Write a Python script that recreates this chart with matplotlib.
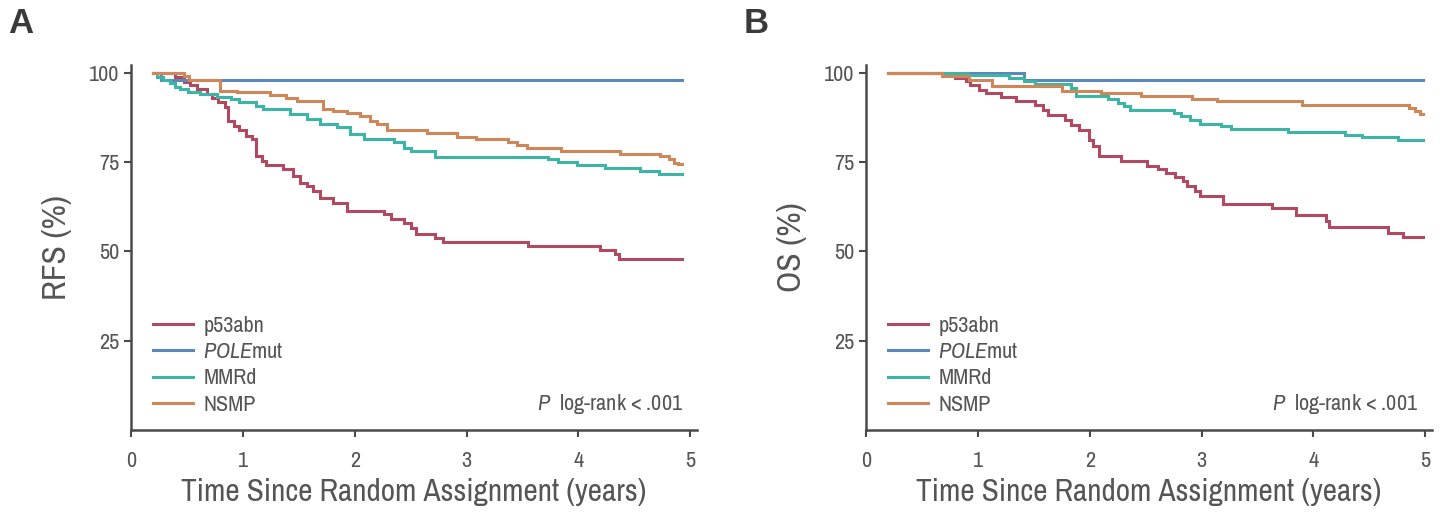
import matplotlib
matplotlib.use("Agg")
import matplotlib.pyplot as plt

FONT = ["Archivo Narrow", "DejaVu Sans"]
plt.rcParams["font.family"] = FONT
plt.rcParams["mathtext.fontset"] = "custom"
plt.rcParams["mathtext.it"] = "Archivo Narrow:italic"
plt.rcParams["mathtext.rm"] = "Archivo Narrow"

groups = ["p53abn", r"$\mathit{POLE}$mut", "MMRd", "NSMP"]
colors = ["#b14a60", "#5b88ba", "#3db5a6", "#cd8759"]

# Relapse-free survival (years, %)
rfs_p53_t = [0.20, 0.39, 0.47, 0.53, 0.59, 0.68, 0.72, 0.78, 0.84, 0.87, 0.92, 0.97, 1.03, 1.08,
             1.12, 1.17, 1.21, 1.36, 1.45, 1.51, 1.57, 1.63, 1.69, 1.81, 1.93, 2.26, 2.32, 2.44,
             2.50, 2.55, 2.72, 2.79, 3.55, 4.19, 4.33, 4.36, 4.93]
rfs_p53_s = [100, 98.9, 97.4, 96.5, 95.5, 94.1, 92.9, 91.8, 90.4, 86.6, 85.2, 83.9, 82.3, 81.5,
             76.8, 75.4, 74.2, 73.0, 71.2, 69.3, 68.4, 67.0, 65.1, 63.7, 61.4, 60.4, 59.0, 57.9,
             56.5, 54.8, 53.8, 52.7, 51.5, 50.4, 49.3, 47.8, 47.8]
rfs_pole_t = [0.20, 0.27, 4.93]
rfs_pole_s = [100, 98.0, 98.0]
rfs_mmrd_t = [0.20, 0.23, 0.29, 0.35, 0.39, 0.44, 0.51, 0.62, 0.77, 0.89, 0.97, 1.12, 1.18, 1.42,
              1.57, 1.69, 1.84, 1.96, 2.08, 2.35, 2.44, 2.50, 2.72, 3.73, 3.82, 3.99, 4.24, 4.55,
              4.72, 4.93]
rfs_mmrd_s = [100, 98.8, 98.0, 97.1, 96.0, 95.4, 94.6, 94.0, 93.2, 92.6, 91.8, 90.8, 89.9, 88.5,
              87.1, 85.7, 84.8, 82.9, 81.5, 80.6, 79.1, 78.2, 76.5, 75.9, 75.1, 74.2, 73.4, 72.6,
              71.8, 71.8]
rfs_nsmp_t = [0.20, 0.47, 0.52, 0.80, 0.95, 1.24, 1.39, 1.48, 1.72, 1.81, 1.93, 2.05, 2.14, 2.20,
              2.29, 2.65, 2.91, 3.08, 3.37, 3.45, 3.54, 3.84, 4.37, 4.73, 4.81, 4.85, 4.89, 4.93]
rfs_nsmp_s = [100, 99.0, 98.1, 95.0, 94.6, 93.8, 92.9, 92.2, 89.9, 89.4, 88.9, 88.0, 86.6, 85.6,
              83.9, 83.3, 82.1, 81.4, 80.7, 79.8, 79.1, 78.2, 77.4, 76.6, 75.9, 74.9, 74.5, 74.5]

# Overall survival (years, %)
os_p53_t = [0.20, 0.80, 0.89, 0.93, 1.01, 1.07, 1.21, 1.34, 1.51, 1.58, 1.63, 1.78, 1.83, 1.90,
            1.99, 2.03, 2.08, 2.28, 2.51, 2.61, 2.68, 2.76, 2.83, 2.87, 2.94, 2.99, 3.19, 3.63,
            3.84, 4.11, 4.14, 4.67, 4.80, 4.98]
os_p53_s = [100, 98.5, 97.6, 96.6, 95.2, 94.3, 93.2, 92.0, 91.0, 89.6, 88.2, 86.8, 85.4, 84.0,
            81.2, 79.4, 76.6, 75.2, 73.9, 73.0, 71.9, 70.8, 69.6, 68.4, 66.8, 65.5, 63.3, 62.1,
            60.2, 58.5, 56.9, 55.3, 54.0, 54.0]
os_pole_t = [0.20, 1.41, 4.98]
os_pole_s = [100, 98.0, 98.0]
os_mmrd_t = [0.20, 0.91, 1.28, 1.41, 1.51, 1.83, 1.88, 2.16, 2.25, 2.31, 2.36, 2.75, 2.82, 2.90,
             2.99, 3.17, 3.26, 3.77, 4.28, 4.43, 4.76, 4.98]
os_mmrd_s = [100, 99.3, 98.5, 97.6, 96.9, 95.7, 93.6, 92.6, 91.7, 90.6, 89.5, 88.7, 87.8, 86.8,
             85.7, 85.0, 84.3, 83.4, 82.6, 82.0, 81.2, 81.2]
os_nsmp_t = [0.20, 0.68, 0.92, 1.13, 1.75, 2.10, 2.46, 2.91, 3.14, 3.90, 4.85, 4.91, 4.95, 4.98]
os_nsmp_s = [100, 99.2, 98.0, 96.3, 95.0, 94.3, 93.6, 92.7, 92.0, 91.0, 90.3, 89.2, 88.4, 88.4]

panels = [
    ("A", "RFS (%)", [(rfs_p53_t, rfs_p53_s), (rfs_pole_t, rfs_pole_s),
                      (rfs_mmrd_t, rfs_mmrd_s), (rfs_nsmp_t, rfs_nsmp_s)]),
    ("B", "OS (%)", [(os_p53_t, os_p53_s), (os_pole_t, os_pole_s),
                     (os_mmrd_t, os_mmrd_s), (os_nsmp_t, os_nsmp_s)]),
]

xticks = [0, 1, 2, 3, 4, 5]
yticks = [25, 50, 75, 100]

AXIS = "#4a4a4a"
TEXT = "#555555"

fig = plt.figure(figsize=(14.44, 5.12), dpi=100)
axes = [fig.add_axes([0.0907, 0.160, 0.392, 0.713]),
        fig.add_axes([0.5997, 0.160, 0.392, 0.713])]

for ax, (letter, ylabel, curves) in zip(axes, panels):
    for (t, s), name, c in zip(curves, groups, colors):
        ax.step(t, s, where="post", color=c, lw=2.2, label=name, solid_joinstyle="miter")

    ax.set_xlim(0, 5.06)
    ax.set_ylim(0, 102.2)
    ax.set_xticks(xticks)
    ax.set_yticks(yticks)
    for side in ("top", "right"):
        ax.spines[side].set_visible(False)
    for side in ("left", "bottom"):
        ax.spines[side].set_color(AXIS)
        ax.spines[side].set_linewidth(1.8)
    ax.tick_params(axis="both", colors=AXIS, labelcolor=TEXT, labelsize=16,
                   width=1.5, length=5, direction="out")
    ax.tick_params(axis="x", pad=10)
    ax.set_xlabel("Time Since Random Assignment (years)", fontsize=22.5, color=TEXT, labelpad=5)
    ax.set_ylabel(ylabel, fontsize=24, color=TEXT, labelpad=12)

    leg = ax.legend(loc="lower left", bbox_to_anchor=(0.02, 0.012), frameon=False,
                    fontsize=16, handlelength=1.8, handletextpad=0.45, labelspacing=0.28,
                    borderpad=0)
    for txt in leg.get_texts():
        txt.set_color(TEXT)

    ax.text(0.975, 0.071, r"$\mathit{P}$  log-rank < .001", transform=ax.transAxes,
            ha="right", va="center", fontsize=16, color=TEXT)

    pos = ax.get_position()
    fig.text(pos.x0 - 0.085, 0.955, letter, fontsize=25, fontweight="bold",
             color="#3a3a3a", ha="left", va="center", family=["Liberation Sans", "DejaVu Sans"])

fig.savefig("out.png", dpi=100, facecolor="white")
